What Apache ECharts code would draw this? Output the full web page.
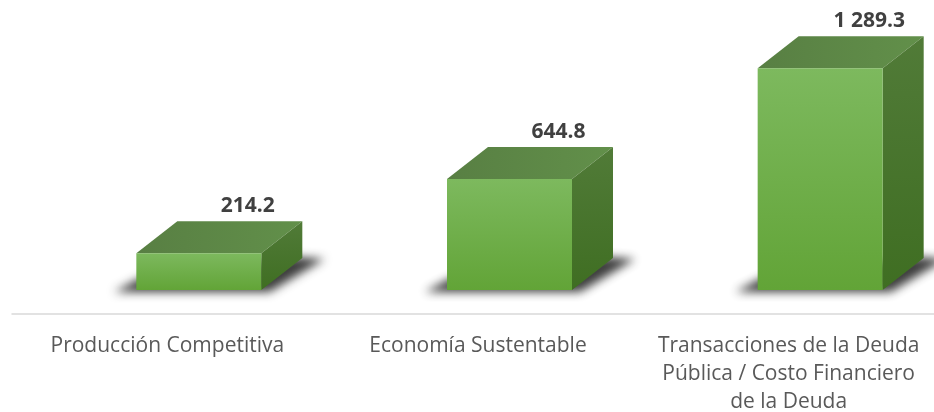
<!DOCTYPE html>
<html>
<head>
<meta charset="utf-8">
<style>html,body{margin:0;padding:0;background:#fff}#c{width:934px;height:412px}</style>
<script src="https://cdn.jsdelivr.net/npm/echarts@6/dist/echarts.min.js"></script>
</head>
<body>
<div id="c"></div>
<script>
const categories = ['Producción Competitiva', 'Economía Sustentable', 'Transacciones de la Deuda\nPública / Costo Financiero\nde la Deuda'];
const values = [214.2, 644.8, 1289.3];
const valueLabels = ['214.2', '644.8', '1 289.3'];

const chart = echarts.init(document.getElementById('c'));
const DX = 41, DY = 32, OFFSET = 31.5, W = 125, FAR = 3000;

function grad(x0, y0, x1, y1, c0, c1) {
  return new echarts.graphic.LinearGradient(x0, y0, x1, y1, [{offset: 0, color: c0}, {offset: 1, color: c1}]);
}

function renderBar(params, api) {
  const i = api.value(0);
  const top = api.coord([i, api.value(1)]);
  const base = api.coord([i, 0]);
  const l = top[0] + OFFSET - W / 2, r = l + W, t = top[1], b = base[1];
  const h = b - t;
  const shadowPts = [[l - 22, b + 2], [l + 4, b - 12], [r + DX - 6, b - DY - 1], [r + DX + 22, b - DY + 1], [r + 8, b + 2]]
    .map(p => [p[0] - FAR, p[1]]);
  return {
    type: 'group',
    children: [
      { type: 'polygon', silent: true,
        shape: { points: shadowPts },
        style: { fill: '#333', shadowBlur: 10, shadowOffsetX: FAR, shadowColor: 'rgba(40,40,40,0.9)' } },
      { type: 'polygon', silent: true,
        shape: { points: [[l, t], [l + DX, t - DY], [r + DX, t - DY], [r, t]] },
        style: { fill: grad(0, 0, 1, 0, '#587f43', '#62904a') } },
      { type: 'polygon', silent: true,
        shape: { points: [[r, t], [r + DX, t - DY], [r + DX, b - DY], [r, b]] },
        style: { fill: grad(0, 0, 0, 1, '#517b38', '#3f6e22') } },
      { type: 'rect', silent: true,
        shape: { x: l, y: t, width: W, height: h },
        style: { fill: grad(0, 0, 0, 1, '#7db95e', '#62a437') } },
      { type: 'text', silent: true,
        style: { x: l + 111.5, y: t - DY - 15, text: valueLabels[i], align: 'center', verticalAlign: 'middle',
                 font: 'bold 21px "Open Sans", sans-serif', fill: '#404040' } }
    ]
  };
}

chart.setOption({
  animation: false,
  backgroundColor: '#ffffff',
  grid: { left: 12, right: -10, top: 0, bottom: 122, containLabel: false, outerBoundsMode: 'none' },
  xAxis: {
    type: 'category',
    data: categories,
    offset: 24,
    axisTick: { show: false },
    axisLine: { onZero: false, lineStyle: { color: '#d9d9d9', width: 1.5 } },
    axisLabel: { color: '#595959', fontFamily: 'Open Sans', fontSize: 21, lineHeight: 28, margin: 18, interval: 0, hideOverlap: false }
  },
  yAxis: { type: 'value', min: 0, max: 1686, show: false, splitLine: { show: false } },
  series: [{
    type: 'custom',
    renderItem: renderBar,
    clip: false,
    encode: { x: 0, y: 1 },
    data: values.map((v, i) => [i, v])
  }]
});
</script>
</body>
</html>
